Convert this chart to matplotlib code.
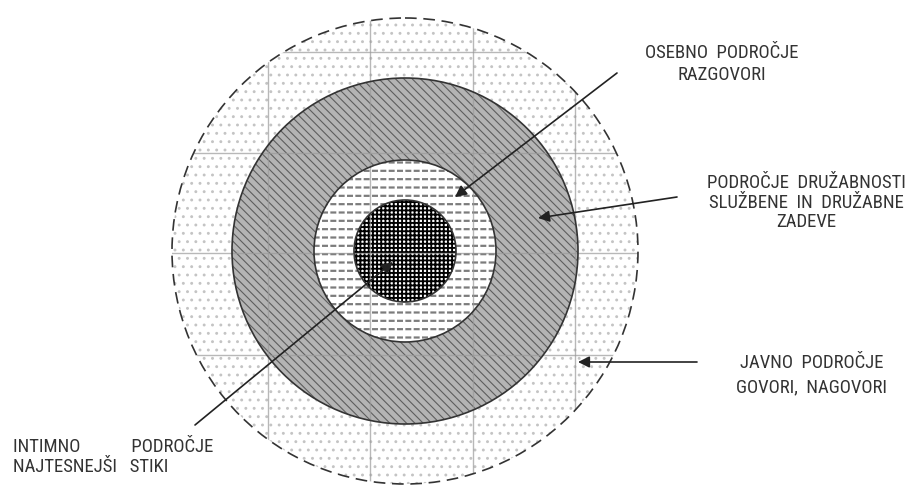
import matplotlib
matplotlib.use("Agg")
import matplotlib.pyplot as plt
from matplotlib.patches import Circle, Wedge
from matplotlib import font_manager

# zones, inner to outer (radius in px of the 911x486 picture)
zone_names = ["intimno", "osebno", "druzabnost", "javno"]
zone_radii = [51, 91, 173, 233]
center = (405, 251)

# faint grid behind the circles
grid_x = [268, 370, 473, 575]
grid_y = [52, 153, 253, 355]

# callouts: text lines, text anchor, alignment, arrow start, arrow tip
label_lines = [
    ["OSEBNO  PODROČJE", "RAZGOVORI"],
    ["PODROČJE  DRUŽABNOSTI", "SLUŽBENE  IN  DRUŽABNE", "ZADEVE"],
    ["JAVNO  PODROČJE", "GOVORI,  NAGOVORI"],
    ["INTIMNO            PODROČJE", "NAJTESNEJŠI   STIKI"],
]
label_pos = [(722, 53), (806, 183), (812, 363), (13, 447)]
label_align = ["center", "center", "center", "left"]
line_gap = [22, 19.5, 24, 20]
arrow_start = [(617, 73), (677, 197), (697, 362), (195, 425)]
arrow_tip = [(455, 197), (538, 218), (578, 362), (393, 262)]

names = {f.name for f in font_manager.fontManager.ttflist}
wanted = ["Liberation Sans Narrow", "Arial Narrow", "Roboto Condensed", "Archivo Narrow",
          "PT Sans Narrow"]
family = next((n for n in wanted if n in names), "DejaVu Sans")

fig = plt.figure(figsize=(9.11, 4.86), dpi=100)
ax = fig.add_axes([0, 0, 1, 1])
ax.set_xlim(0, 911)
ax.set_ylim(486, 0)
ax.set_aspect("equal")
ax.axis("off")

# fill styles of the zones: (face, hatch, hatch colour, hatch width)
styles = [
    ("white", "++++", "black", 1.35),
    ("white", "--", "#7c7c7c", 1.6),
    ("#b4b4b4", "\\\\\\\\", "#5e5e5e", 0.8),
    ("white", "..", "#c4c4c4", 0.9),
]

inner = [0] + zone_radii[:-1]
for i in range(len(zone_radii)):
    face, hatch, hcol, hlw = styles[i]
    with plt.rc_context({"hatch.linewidth": hlw}):
        ax.add_patch(Wedge(center, zone_radii[i], 0, 360, width=zone_radii[i] - inner[i],
                           facecolor=face, edgecolor=hcol, hatch=hatch,
                           linewidth=0, zorder=1))

# cut the horizontal lines of the second zone into short dashes
with plt.rc_context({"hatch.linewidth": 1.7}):
    ax.add_patch(Wedge(center, zone_radii[1], 0, 360, width=zone_radii[1] - zone_radii[0],
                       facecolor="none", edgecolor="white", hatch="||",
                       linewidth=0, zorder=1.5))

outer_clip = Circle(center, zone_radii[-1], transform=ax.transData)
for gx in grid_x:
    ln = ax.axvline(gx, color="#9a9a9a", lw=1.0, alpha=0.7, zorder=2)
    ln.set_clip_path(outer_clip)
for gy in grid_y:
    ln = ax.axhline(gy, color="#9a9a9a", lw=1.0, alpha=0.7, zorder=2)
    ln.set_clip_path(outer_clip)

# outlines
for r in zone_radii[:-1]:
    ax.add_patch(Circle(center, r, fill=False, edgecolor="#333333", lw=1.2, zorder=3))
ax.add_patch(Circle(center, zone_radii[-1], fill=False, edgecolor="#333333", lw=1.2,
                    linestyle=(0, (7, 4)), zorder=3))

# arrows
for s, t in zip(arrow_start, arrow_tip):
    ax.annotate("", xy=t, xytext=s,
                arrowprops=dict(arrowstyle="-|>", color="#222222", lw=1.2,
                                mutation_scale=17, shrinkA=0, shrinkB=0),
                zorder=4)

# labels
for lines, (x, y), ha, gap in zip(label_lines, label_pos, label_align, line_gap):
    for k, txt in enumerate(lines):
        ax.text(x, y + k * gap, txt, ha=ha, va="center", fontsize=13.5,
                family=family, color="#333333")

fig.savefig("out.png", dpi=100)
